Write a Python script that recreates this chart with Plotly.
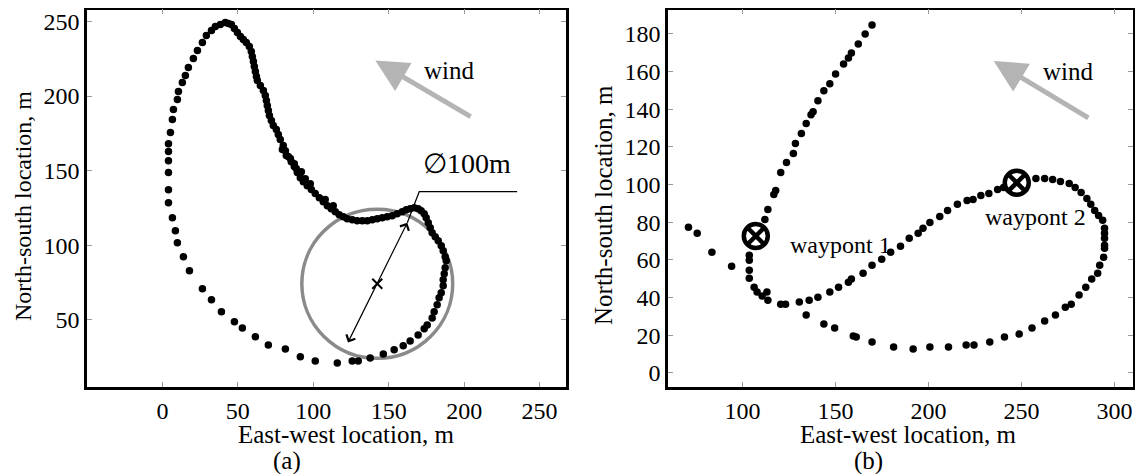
import plotly.graph_objects as go

# ---------------- Panel (a) data ----------------
a_x = [41.7, 43.7, 45.7, 47.7, 49.7, 51.7, 53.6, 55.6, 57.6, 58.9, 59.6, 60.3, 60.9, 61.6, 62.3, 62.9,
       64.9, 66.9, 68.2, 68.9, 69.5, 70.2, 70.9, 72.2, 73.5, 75.5, 76.8, 78.1, 80.1, 81.5, 83.4, 85.4,
       87.4, 89.4, 91.4, 93.4, 96.0, 98.7, 101.3, 104.0, 106.6, 109.3, 111.9, 114.6, 117.2, 119.9, 122.5,
       125.8, 129.1, 132.5, 135.8, 139.1, 142.4, 145.7, 149.0, 152.3, 155.6, 158.9, 161.6, 164.2, 166.9,
       169.5, 171.5, 173.5, 174.8, 176.2, 177.5, 178.8, 180.8, 182.8, 184.8, 186.1, 187.4,
       188.1, 187.4, 186.8, 186.1, 186.1, 184.8, 183.4, 182.1, 180.1, 178.8, 175.5, 173.5, 169.5, 164.2,
       159.6, 153.6, 146.4, 137.7, 129.8, 125.8, 115.9, 101.3, 91.4, 81.5, 70.2, 61.6, 53.0, 47.7, 39.1,
       32.5, 26.5, 17.9, 13.9, 9.9, 8.6, 6.6, 4.0, 4.0, 4.0, 4.0, 4.0, 4.0, 5.3, 6.6, 7.3, 9.9, 10.6, 13.2,
       15.2, 17.2, 20.5, 23.2, 26.5, 29.1, 32.5, 35.1, 38.4,
       79.5, 82.1, 84.8, 87.4, 88.7, 92.1, 94.7, 98.0, 107.9, 113.2]
a_y = [249.3, 248.7, 248.0, 245.3, 242.6, 239.9, 237.9, 235.9, 233.2, 229.9, 226.5, 223.2, 219.8, 216.4,
       213.1, 210.4, 207.0, 203.7, 200.3, 197.0, 193.6, 190.3, 186.9, 183.6, 180.2, 177.5, 174.2, 170.8,
       166.8, 163.4, 159.4, 156.0, 152.7, 148.7, 145.3, 142.6, 139.9, 137.3, 134.6, 131.9, 129.2, 126.5,
       124.5, 122.5, 120.5, 119.1, 117.8, 117.1, 116.5, 116.5, 116.5, 117.1, 117.8, 118.5, 119.1, 119.8,
       121.1, 122.5, 123.8, 124.5, 125.2, 124.5, 123.2, 121.1, 118.5, 115.1, 111.8, 108.4, 105.7, 103.0,
       99.7, 96.3, 92.3,
       89.6, 84.9, 80.9, 76.8, 72.8, 68.1, 64.8, 60.1, 55.4, 51.3, 46.6, 44.0, 39.9, 35.9, 32.6, 29.9,
       27.2, 24.5, 22.5, 22.5, 21.1, 22.5, 25.2, 30.5, 33.2, 38.6, 44.6, 48.7, 55.4, 63.4, 70.8, 82.9,
       92.3, 101.7, 109.7, 118.5, 128.5, 137.2, 148.7, 156.7, 162.8, 168.1, 175.5, 184.2, 190.9, 197.7,
       203.0, 209.1, 213.8, 219.1, 225.2, 230.5, 235.9, 240.6, 244.0, 246.6, 248.0,
       164.1, 160.1, 158.1, 154.7, 151.4, 149.3, 144.6, 141.3, 130.6, 126.5]

a_circle_center = [142.4, 74.2]
a_circle_diameter = 100
a_dim_start = [122.5, 33.9]
a_dim_end = [162.3, 115.1]
a_leader_x = [162.3, 170.2, 235.1]
a_leader_y = [115.1, 135.9, 135.9]
a_label_pos = [202.0, 143.0]
a_wind_tail = [205.3, 185.6]
a_wind_tip = [141.1, 223.8]
a_wind_text = [190.0, 217.0]

# ---------------- Panel (b) data ----------------
b_x = [169.7, 166.0, 162.3, 158.6, 157.0, 154.4, 150.1, 147.0, 143.8, 140.6, 138.0, 136.9, 134.3, 131.7,
       128.5, 127.4, 123.7, 120.6, 117.9, 116.9, 113.7, 112.1,
       103.7, 103.7, 103.7, 103.7, 106.3, 107.9, 110.6, 113.2, 113.7, 120.6, 123.2, 130.6, 135.9, 140.6,
       147.0, 151.7, 157.0, 158.6, 164.9, 169.7, 174.9, 179.7, 185.0, 189.7, 194.5, 197.1, 200.8, 206.1,
       210.3, 215.6, 220.8, 224.0, 228.2, 232.5, 237.2, 240.4,
       257.8, 262.5, 266.8, 271.0, 275.7, 278.9, 282.1, 285.2, 287.3, 289.4, 291.5, 293.7, 294.7, 294.7,
       294.7, 294.7, 294.7, 294.2, 292.1, 291.0, 287.8, 284.6, 281.0, 276.8, 273.6, 268.3, 262.5, 255.7,
       248.8, 240.9, 233.0, 224.5, 220.3, 210.8, 200.8, 191.8, 181.3, 169.7, 161.2, 159.6, 149.6, 143.8,
       134.3, 94.2, 83.6, 75.7, 71.0]
b_y = [184.8, 180.0, 174.7, 169.9, 167.3, 164.1, 158.8, 153.5, 149.8, 144.5, 138.7, 137.1, 132.4, 127.1,
       121.8, 116.5, 111.7, 106.4, 96.9, 94.8, 86.8, 81.5,
       62.5, 59.8, 54.5, 50.3, 45.5, 42.9, 40.8, 42.9, 38.6, 36.5, 36.5, 37.6, 38.6, 40.2, 42.9, 45.5,
       48.2, 49.8, 52.9, 57.2, 60.4, 64.1, 67.2, 71.5, 74.1, 76.8, 79.9, 83.1, 86.3, 89.5, 91.6, 92.1,
       94.2, 95.3, 97.4, 98.5,
       103.2, 103.2, 102.7, 101.6, 100.6, 98.5, 95.8, 92.6, 89.5, 86.3, 83.6, 81.0, 76.8, 74.1, 71.5,
       67.8, 66.2, 61.4, 57.2, 52.9, 49.8, 45.5, 41.3, 36.5, 34.9, 30.7, 27.5, 23.8, 20.6, 19.1, 16.4,
       14.8, 14.8, 13.8, 13.8, 12.7, 13.8, 16.4, 19.1, 19.6, 23.8, 25.9, 30.7, 56.6, 64.1, 74.1, 77.3]

b_waypoint_x = [107.2, 247.5]
b_waypoint_y = [72.7, 101.0]
b_waypoint_labels = ["waypont 1", "waypont 2"]
b_label_x = [153.0, 257.5]
b_label_y = [67.8, 83.0]
b_wind_tail = [286.8, 135.0]
b_wind_tip = [235.1, 165.7]
b_wind_text = [275.2, 159.9]

a_xticks = [0, 50, 100, 150, 200, 250]
a_yticks = [50, 100, 150, 200, 250]
b_xticks = [100, 150, 200, 250, 300]
b_yticks = [0, 20, 40, 60, 80, 100, 120, 140, 160, 180]

FONT = "Liberation Serif, Times New Roman, serif"
# the page body keeps an 8 px margin, so the figure is 8 px smaller than the window
OFF = 8
W, H = 1143 - OFF, 474 - OFF


def px(v):
    return (v - OFF) / W


def py(v):
    return 1 - (v - OFF) / H


fig = go.Figure()
fig.add_trace(go.Scatter(x=a_x, y=a_y, mode="markers", xaxis="x", yaxis="y",
                         marker=dict(color="black", size=7.5), showlegend=False, hoverinfo="skip"))
fig.add_trace(go.Scatter(x=[a_circle_center[0]], y=[a_circle_center[1]], mode="markers",
                         xaxis="x", yaxis="y",
                         marker=dict(symbol="x-thin-open", size=10, color="black",
                                     line=dict(color="black", width=2)),
                         showlegend=False, hoverinfo="skip"))
fig.add_trace(go.Scatter(x=a_leader_x, y=a_leader_y, mode="lines", xaxis="x", yaxis="y",
                         line=dict(color="black", width=1.2), showlegend=False, hoverinfo="skip"))
fig.add_trace(go.Scatter(x=b_x, y=b_y, mode="markers", xaxis="x2", yaxis="y2",
                         marker=dict(color="black", size=7.5), showlegend=False, hoverinfo="skip"))
fig.add_trace(go.Scatter(x=b_waypoint_x, y=b_waypoint_y, mode="markers", xaxis="x2", yaxis="y2",
                         marker=dict(symbol="circle-x", color="white", size=24,
                                     line=dict(color="black", width=4.5)),
                         showlegend=False, hoverinfo="skip"))

r = a_circle_diameter / 2
fig.add_shape(type="circle", xref="x", yref="y",
              x0=a_circle_center[0] - r, x1=a_circle_center[0] + r,
              y0=a_circle_center[1] - r, y1=a_circle_center[1] + r,
              line=dict(color="#8a8a8a", width=3.5), layer="below")

ydom = [py(387), py(9.5)]
axis_common = dict(showgrid=False, zeroline=False, showline=True, linecolor="black", linewidth=2.5,
                   mirror="ticks", ticks="inside", ticklen=5, tickwidth=1, tickcolor="#999999",
                   tickfont=dict(family=FONT, size=24, color="black"))
fig.update_layout(
    width=W, height=H, margin=dict(l=0, r=0, t=0, b=0),
    paper_bgcolor="white", plot_bgcolor="white",
    font=dict(family=FONT, color="black"),
    xaxis=dict(domain=[px(87), px(566)], range=[-50, 267.5], tickvals=a_xticks, anchor="y", **axis_common),
    yaxis=dict(domain=ydom, range=[5, 258], tickvals=a_yticks, anchor="x", **axis_common),
    xaxis2=dict(domain=[px(668), px(1133)], range=[60, 310], tickvals=b_xticks, anchor="y2", **axis_common),
    yaxis2=dict(domain=ydom, range=[-7.5, 193], tickvals=b_yticks, anchor="x2", **axis_common),
)

ann = []
# wind arrows
for xr, yr, tip, tail, txt in [("x", "y", a_wind_tip, a_wind_tail, a_wind_text),
                               ("x2", "y2", b_wind_tip, b_wind_tail, b_wind_text)]:
    ann.append(dict(x=tip[0], y=tip[1], ax=tail[0], ay=tail[1], xref=xr, yref=yr, axref=xr, ayref=yr,
                    text="", showarrow=True, arrowhead=2, arrowsize=1.3, arrowwidth=5,
                    arrowcolor="#b4b4b4", standoff=0))
    ann.append(dict(x=txt[0], y=txt[1], xref=xr, yref=yr, text="wind", showarrow=False,
                    font=dict(family=FONT, size=25, color="black")))
# diameter dimension arrow
ann.append(dict(x=a_dim_end[0], y=a_dim_end[1], ax=a_dim_start[0], ay=a_dim_start[1],
                xref="x", yref="y", axref="x", ayref="y", text="", showarrow=True,
                arrowhead=4, startarrowhead=4, arrowside="end+start", arrowsize=1.6,
                startarrowsize=1.6, arrowwidth=1.2, arrowcolor="black", standoff=0, startstandoff=0))
ann.append(dict(x=a_label_pos[0], y=a_label_pos[1], xref="x", yref="y", text="∅100m",
                showarrow=False, yanchor="bottom", font=dict(family=FONT, size=28, color="black")))
# waypoint labels
for lx, ly, lt in zip(b_label_x, b_label_y, b_waypoint_labels):
    ann.append(dict(x=lx, y=ly, xref="x2", yref="y2", text=lt, showarrow=False,
                    font=dict(family=FONT, size=24, color="black")))
# axis titles and panel labels
for tx, ty, txt, ang, fs in [(23, 206, "North-south location, m", -90, 24),
                             (603, 205, "North-south location, m", -90, 25),
                             (346, 434, "East-west location, m", 0, 25),
                             (908, 434, "East-west location, m", 0, 25),
                             (287, 461, "(a)", 0, 25),
                             (868, 461, "(b)", 0, 25)]:
    ann.append(dict(x=px(tx), y=py(ty), xref="paper", yref="paper", text=txt, showarrow=False,
                    textangle=ang, xanchor="center", yanchor="middle",
                    font=dict(family=FONT, size=fs, color="black")))
fig.update_layout(annotations=ann)

fig.write_html("out.html")
